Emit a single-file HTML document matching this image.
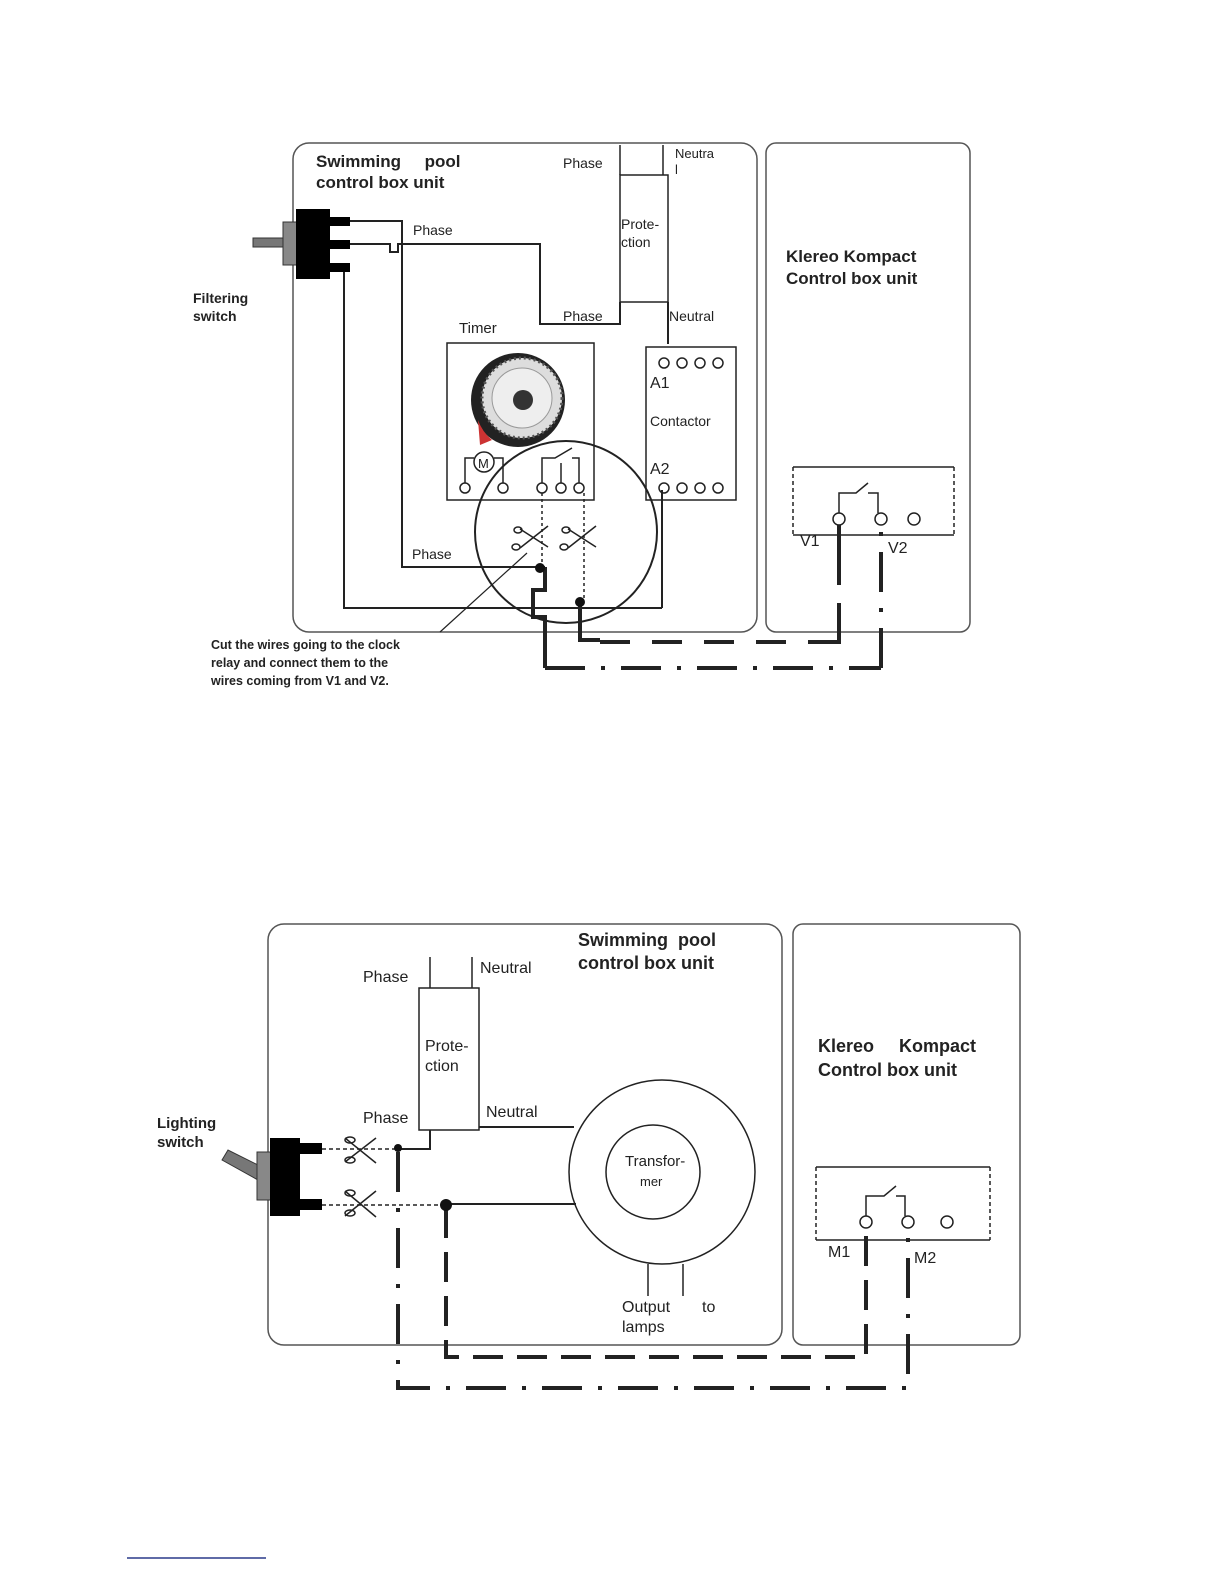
<!DOCTYPE html>
<html><head><meta charset="utf-8"><style>
html,body{margin:0;padding:0;background:#fff}
svg{display:block}
text{font-family:"Liberation Sans",sans-serif;fill:#222}
.b{font-weight:bold}
</style></head><body>
<svg width="1224" height="1584" viewBox="0 0 1224 1584" xmlns="http://www.w3.org/2000/svg">
<g fill="none" stroke="#222" stroke-width="1.5">
<!-- TOP -->
<rect x="293" y="143" width="464" height="489" rx="16" stroke="#555"/>
<rect x="766" y="143" width="204" height="489" rx="10" stroke="#555"/>
<rect x="620" y="175" width="48" height="127"/>
<line x1="620" y1="145" x2="620" y2="175"/><line x1="663" y1="145" x2="663" y2="175"/>
<polyline points="350,221 402,221 402,567 545,567" stroke-width="2"/>
<polyline points="350,244 390,244 390,252 398,252 398,244 540,244 540,324 620,324 620,302" stroke-width="2"/>
<polyline points="350,267 344,267 344,608 662,608" stroke-width="2"/>
<line x1="662" y1="490" x2="662" y2="608" stroke-width="2"/>
<line x1="668" y1="302" x2="668" y2="344" stroke-width="2"/>
<rect x="646" y="347" width="90" height="153"/>
<circle cx="664" cy="363" r="5"/><circle cx="682" cy="363" r="5"/><circle cx="700" cy="363" r="5"/><circle cx="718" cy="363" r="5"/>
<circle cx="664" cy="488" r="5"/><circle cx="682" cy="488" r="5"/><circle cx="700" cy="488" r="5"/><circle cx="718" cy="488" r="5"/>
<rect x="447" y="343" width="147" height="157"/>
<circle cx="465" cy="488" r="5"/><circle cx="503" cy="488" r="5"/>
<circle cx="542" cy="488" r="5"/><circle cx="561" cy="488" r="5"/><circle cx="579" cy="488" r="5"/>
<circle cx="484" cy="462" r="10"/>
<polyline points="465,483 465,458 474,458"/><polyline points="494,458 503,458 503,483"/>
<polyline points="542,483 542,458 555,458 572,448"/><line x1="561" y1="483" x2="561" y2="463"/>
<polyline points="579,483 579,458 572,458"/>
<circle cx="566" cy="532" r="91" stroke-width="2"/>
<line x1="542" y1="493" x2="542" y2="567" stroke-dasharray="3,3"/>
<line x1="584" y1="493" x2="584" y2="600" stroke-dasharray="3,3"/>
<line x1="440" y1="632" x2="527" y2="553" stroke-width="1.2"/>
<g stroke-width="1.5"><line x1="520" y1="548" x2="548" y2="526"/><line x1="520" y1="529" x2="548" y2="547"/><ellipse cx="516" cy="547" rx="4" ry="3"/><ellipse cx="518" cy="530" rx="4" ry="3"/></g>
<g stroke-width="1.5"><line x1="568" y1="548" x2="596" y2="526"/><line x1="568" y1="529" x2="596" y2="547"/><ellipse cx="564" cy="547" rx="4" ry="3"/><ellipse cx="566" cy="530" rx="4" ry="3"/></g>
<polyline points="545,567 545,590 533,590 533,617 545,617 545,668" stroke-width="4"/>
<polyline points="580,602 580,640 600,640" stroke-width="4"/>
<line x1="600" y1="642" x2="830" y2="642" stroke-width="4" stroke-dasharray="30,22"/>
<polyline points="818,642 839,642 839,520" stroke-width="4" stroke-dasharray="60,18"/>
<line x1="545" y1="668" x2="881" y2="668" stroke-width="4" stroke-dasharray="40,16,4,16"/>
<line x1="881" y1="668" x2="881" y2="527" stroke-width="4" stroke-dasharray="40,16,4,16"/>
<line x1="793" y1="467" x2="954" y2="467"/><line x1="793" y1="535" x2="954" y2="535"/>
<line x1="793" y1="467" x2="793" y2="535" stroke-dasharray="4,3"/><line x1="954" y1="467" x2="954" y2="535" stroke-dasharray="4,3"/>
<circle cx="839" cy="519" r="6"/><circle cx="881" cy="519" r="6"/><circle cx="914" cy="519" r="6"/>
<polyline points="839,513 839,493 856,493 868,483"/><polyline points="868,493 878,493 878,513"/>
</g>
<g fill="#111"><circle cx="540" cy="568" r="5"/><circle cx="580" cy="602" r="5"/></g>
<rect x="253" y="238" width="31" height="9" fill="#777" stroke="#333"/>
<rect x="283" y="222" width="14" height="43" fill="#888" stroke="#333"/>
<rect x="296" y="209" width="34" height="70" fill="#000"/>
<rect x="330" y="217" width="20" height="9" fill="#000"/><rect x="330" y="240" width="20" height="9" fill="#000"/><rect x="330" y="263" width="20" height="9" fill="#000"/>
<circle cx="518" cy="400" r="47" fill="#222"/>
<circle cx="522" cy="398" r="40" fill="#ddd" stroke="#555" stroke-dasharray="2,3" stroke-width="3"/>
<circle cx="522" cy="398" r="30" fill="#eee" stroke="#999"/>
<circle cx="523" cy="400" r="10" fill="#333"/>
<path d="M478 420 A45 45 0 0 0 492 440 L480 445 Z" fill="#c33"/>
<g font-size="16">
<text x="316" y="167" class="b" font-size="17">Swimming&#160;&#160;&#160;&#160; pool</text>
<text x="316" y="188" class="b" font-size="17">control box unit</text>
<text x="563" y="168" font-size="14">Phase</text>
<text x="675" y="158" font-size="13">Neutra</text><text x="675" y="174" font-size="13">l</text>
<text x="621" y="229" font-size="14">Prote-</text><text x="621" y="247" font-size="14">ction</text>
<text x="413" y="235" font-size="14">Phase</text>
<text x="563" y="321" font-size="14">Phase</text>
<text x="669" y="321" font-size="14">Neutral</text>
<text x="459" y="333" font-size="15">Timer</text>
<text x="478" y="468" font-size="13">M</text>
<text x="650" y="388">A1</text>
<text x="650" y="426" font-size="14">Contactor</text>
<text x="650" y="474">A2</text>
<text x="412" y="559" font-size="14">Phase</text>
<text x="786" y="262" class="b" font-size="17">Klereo Kompact</text>
<text x="786" y="284" class="b" font-size="17">Control box unit</text>
<text x="800" y="546" font-size="16">V1</text><text x="888" y="553" font-size="16">V2</text>
<text x="193" y="303" class="b" font-size="14">Filtering</text><text x="193" y="321" class="b" font-size="14">switch</text>
<text x="211" y="649" class="b" font-size="12.5">Cut the wires going to the clock</text>
<text x="211" y="667" class="b" font-size="12.5">relay and connect them to the</text>
<text x="211" y="685" class="b" font-size="12.5">wires coming from V1 and V2.</text>
</g>

<!-- BOTTOM -->
<g fill="none" stroke="#222" stroke-width="1.5">
<rect x="268" y="924" width="514" height="421" rx="16" stroke="#555"/>
<rect x="793" y="924" width="227" height="421" rx="10" stroke="#555"/>
<rect x="419" y="988" width="60" height="142"/>
<line x1="430" y1="957" x2="430" y2="988"/><line x1="472" y1="957" x2="472" y2="988"/>
<polyline points="398,1149 430,1149 430,1130" stroke-width="2"/>
<line x1="479" y1="1127" x2="574" y2="1127" stroke-width="2"/>
<line x1="446" y1="1204" x2="576" y2="1204" stroke-width="2"/>
<line x1="322" y1="1149" x2="398" y2="1149" stroke-dasharray="4,3"/>
<line x1="322" y1="1205" x2="446" y2="1205" stroke-dasharray="4,3"/>
<ellipse cx="662" cy="1172" rx="93" ry="92"/>
<circle cx="653" cy="1172" r="47"/>
<line x1="648" y1="1264" x2="648" y2="1296"/><line x1="683" y1="1264" x2="683" y2="1296"/>
<g stroke-width="1.5"><line x1="345" y1="1138" x2="376" y2="1163"/><line x1="345" y1="1162" x2="376" y2="1138"/><ellipse cx="350" cy="1140" rx="5" ry="3"/><ellipse cx="350" cy="1160" rx="5" ry="3"/></g>
<g stroke-width="1.5"><line x1="345" y1="1191" x2="376" y2="1217"/><line x1="345" y1="1216" x2="376" y2="1191"/><ellipse cx="350" cy="1193" rx="5" ry="3"/><ellipse cx="350" cy="1213" rx="5" ry="3"/></g>
<polyline points="398,1152 398,1388 908,1388 908,1228" stroke-width="4" stroke-dasharray="40,16,4,16"/>
<polyline points="446,1208 446,1357 866,1357 866,1228" stroke-width="4" stroke-dasharray="30,14"/>
<line x1="816" y1="1167" x2="990" y2="1167"/><line x1="816" y1="1240" x2="990" y2="1240"/>
<line x1="816" y1="1167" x2="816" y2="1240" stroke-dasharray="4,3"/><line x1="990" y1="1167" x2="990" y2="1240" stroke-dasharray="4,3"/>
<circle cx="866" cy="1222" r="6"/><circle cx="908" cy="1222" r="6"/><circle cx="947" cy="1222" r="6"/>
<polyline points="866,1216 866,1196 884,1196 896,1186"/><polyline points="896,1196 905,1196 905,1216"/>
</g>
<g fill="#111"><circle cx="398" cy="1148" r="4"/><circle cx="446" cy="1205" r="6"/></g>
<polygon points="222,1160 228,1150 264,1168 258,1180" fill="#777" stroke="#333"/>
<rect x="257" y="1152" width="15" height="48" fill="#888" stroke="#333"/>
<rect x="270" y="1138" width="30" height="78" fill="#000"/>
<rect x="300" y="1143" width="22" height="11" fill="#000"/><rect x="300" y="1199" width="22" height="11" fill="#000"/>
<g font-size="16">
<text x="578" y="946" class="b" font-size="18">Swimming&#160; pool</text>
<text x="578" y="969" class="b" font-size="18">control box unit</text>
<text x="363" y="982">Phase</text>
<text x="480" y="973">Neutral</text>
<text x="425" y="1051">Prote-</text><text x="425" y="1071">ction</text>
<text x="363" y="1123">Phase</text>
<text x="486" y="1117">Neutral</text>
<text x="625" y="1166" font-size="15">Transfor-</text>
<text x="640" y="1186" font-size="13">mer</text>
<text x="622" y="1312">Output</text><text x="702" y="1312">to</text>
<text x="622" y="1332">lamps</text>
<text x="818" y="1052" class="b" font-size="18">Klereo&#160;&#160;&#160;&#160; Kompact</text>
<text x="818" y="1076" class="b" font-size="18">Control box unit</text>
<text x="828" y="1257">M1</text><text x="914" y="1263">M2</text>
<text x="157" y="1128" class="b" font-size="15">Lighting</text><text x="157" y="1147" class="b" font-size="15">switch</text>
</g>
<line x1="127" y1="1558" x2="266" y2="1558" stroke="#2a3a8a" stroke-width="1.5"/>
</svg>
</body></html>
